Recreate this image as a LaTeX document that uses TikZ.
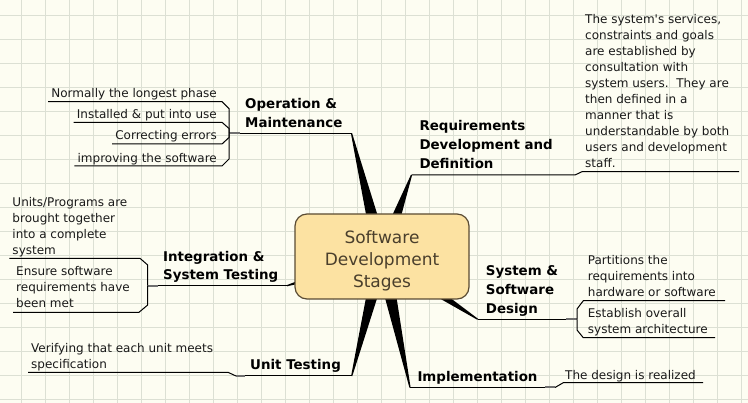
\documentclass[tikz,border=0pt]{standalone}
\usepackage{fontspec}
\setmainfont{DejaVu Sans}[Ligatures=TeXOff]
\usetikzlibrary{calc}
\pgfdeclarelayer{gridlayer}
\pgfdeclarelayer{spokelayer}
\pgfsetlayers{gridlayer,spokelayer,main}
\definecolor{paper}{HTML}{FDFDF2}
\definecolor{gridc}{HTML}{DCE0D4}
\definecolor{centfill}{HTML}{FCE2A2}
\definecolor{centdraw}{HTML}{5A4B33}
\definecolor{centtext}{HTML}{4A3F2C}
\definecolor{joinc}{HTML}{707070}
\newcommand\spokeline[3]{%
  \fill[spokefill] ($(#1)!#3!90:(#2)$) -- ($(#2)!0.6pt!-90:(#1)$) -- ($(#2)!0.6pt!90:(#1)$) -- ($(#1)!#3!-90:(#2)$) -- cycle;}
\begin{document}
\begin{tikzpicture}[x=1pt,y=-1pt,
  centerbox/.style={draw=centdraw, fill=centfill, line width=1.2pt, rounded corners=12pt,
    minimum width=174pt, minimum height=85pt, inner sep=0pt, align=center,
    text=centtext, font=\fontsize{17}{22}\selectfont},
  branch/.style={font=\fontsize{13.4}{18.7}\selectfont\bfseries, align=left, inner sep=0pt, anchor=base west},
  desc/.style={font=\fontsize{12}{16}\selectfont, align=left, inner xsep=3pt, inner ysep=0pt, anchor=base west, text=black!90},
  descr/.style={desc, align=right, anchor=base east},
  uline/.style={line width=1pt, black},
  joinline/.style={joinc, line width=2pt},
  gridline/.style={gridc, line width=1pt},
  spokefill/.style={fill=black},
]
\useasboundingbox (0,0) rectangle (748,403);
\begin{pgfonlayer}{gridlayer}
  \fill[paper] (0,0) rectangle (748,403);
  \foreach \gx in {21,45,...,741} \draw[gridline] (\gx,0) -- (\gx,403);
  \foreach \gy in {16,40,...,400} \draw[gridline] (0,\gy) -- (748,\gy);
\end{pgfonlayer}

% central topic
\node[centerbox] (center) at (382,256.5) {\rule{0pt}{21pt}Software\\Development\\Stages};

% spoke end points
\coordinate (opE) at (351.5,133.3);
\coordinate (reqE) at (411.5,175);
\coordinate (sysE) at (477.7,319.3);
\coordinate (impE) at (410,387.5);
\coordinate (unitE) at (351.7,376);
\coordinate (intE) at (287,285.7);

\begin{pgfonlayer}{spokelayer}
  \spokeline{center.center}{opE}{8pt}
  \spokeline{center.center}{reqE}{8pt}
  \spokeline{center.center}{sysE}{8pt}
  \spokeline{center.center}{impE}{8pt}
  \spokeline{center.center}{unitE}{8pt}
  \spokeline{center.center}{intE}{8pt}
\end{pgfonlayer}

% Operation & Maintenance
\node[branch] (op) at (245,127.3) {Operation \&\\Maintenance};
\coordinate (opL) at (240,133.3);
\coordinate (opJ) at (229,133.3);
\draw[uline] (opE) -- (opL);
\draw[joinline] (opL) -- (opJ);
\node[descr] (op1) at (220,97.3) {Normally the longest phase};
\node[descr] (op2) at (220,118.3) {Installed \& put into use};
\node[descr] (op3) at (220,140) {Correcting errors};
\node[descr] (op4) at (220,162.3) {improving the software};
\draw[uline] (op1.west |- 0,101.7) -- (222,101.7) -- (229,108.7) -- (opJ);
\draw[uline] (op2.west |- 0,122.3) -- (222,122.3) -- (229,128.5) -- (opJ);
\draw[uline] (op3.west |- 0,144) -- (222,144) -- (229,137.5) -- (opJ);
\draw[uline] (op4.west |- 0,166) -- (222,166) -- (229,159) -- (opJ);

% Requirements Development and Definition
\node[branch] (req) at (419.3,168.3) {Requirements\\Development and\\Definition};
\coordinate (reqR) at (575,175);
\node[desc] (reqd) at (582,167.3) {The system's services,\\constraints and goals\\are established by\\consultation with\\system users.~~They are\\then defined in a\\manner that is\\understandable by both\\users and development\\staff.};
\draw[uline] (reqE) -- (reqR) -- (582,171.7) -- (739,171.7);

% System & Software Design
\node[branch] (sys) at (485.7,313.3) {System \&\\Software\\Design};
\coordinate (sysR) at (566,319.3);
\coordinate (sysJ) at (577,319.3);
\draw[uline] (sysE) -- (sysR);
\draw[joinline] (sysR) -- (sysJ);
\node[desc] (sys1) at (584.7,296.8) {Partitions the\\requirements into\\hardware or software};
\node[desc] (sys2) at (584.7,334) {Establish overall\\system architecture};
\draw[uline] (725,300.7) -- (583.3,300.7) -- (577,309) -- (sysJ);
\draw[uline] (715,337.7) -- (583.3,337.7) -- (577,330) -- (sysJ);

% Implementation
\node[branch] (imp) at (417.3,381.7) {Implementation};
\coordinate (impR) at (545,387.5);
\coordinate (impJ) at (555,387.5);
\draw[uline] (impE) -- (impR);
\draw[joinline] (impR) -- (impJ);
\node[desc] (impd) at (562,380) {The design is realized};
\draw[uline] (impJ) -- (563.3,382.7) -- (703,382.7);

% Unit Testing
\node[branch] (unit) at (250,370) {Unit Testing};
\coordinate (unitR) at (245,376);
\coordinate (unitJ) at (236,376);
\draw[uline] (unitE) -- (unitR);
\draw[joinline] (unitR) -- (unitJ);
\node[desc] (unitd) at (28,368.3) {Verifying that each unit meets\\specification};
\draw[uline] (unitJ) -- (228,372.3) -- (unitd.west |- 0,372.3);

% Integration & System Testing
\node[branch] (int) at (163,280) {Integration \&\\System Testing};
\coordinate (intR) at (158,285.7);
\coordinate (intJ) at (147.7,285.7);
\draw[uline] (intE) -- (intR);
\draw[joinline] (intR) -- (intJ);
\node[desc] (int1) at (9.3,254.7) {Units/Programs are\\brought together\\into a complete\\system};
\node[desc] (int2) at (13,308) {Ensure software\\requirements have\\been met};
\draw[uline] (int1.west |- 0,258.3) -- (140,258.3) -- (147.7,265) -- (intJ);
\draw[uline] (int2.west |- 0,312.3) -- (139,312.3) -- (147.7,305) -- (intJ);
\end{tikzpicture}
\end{document}
